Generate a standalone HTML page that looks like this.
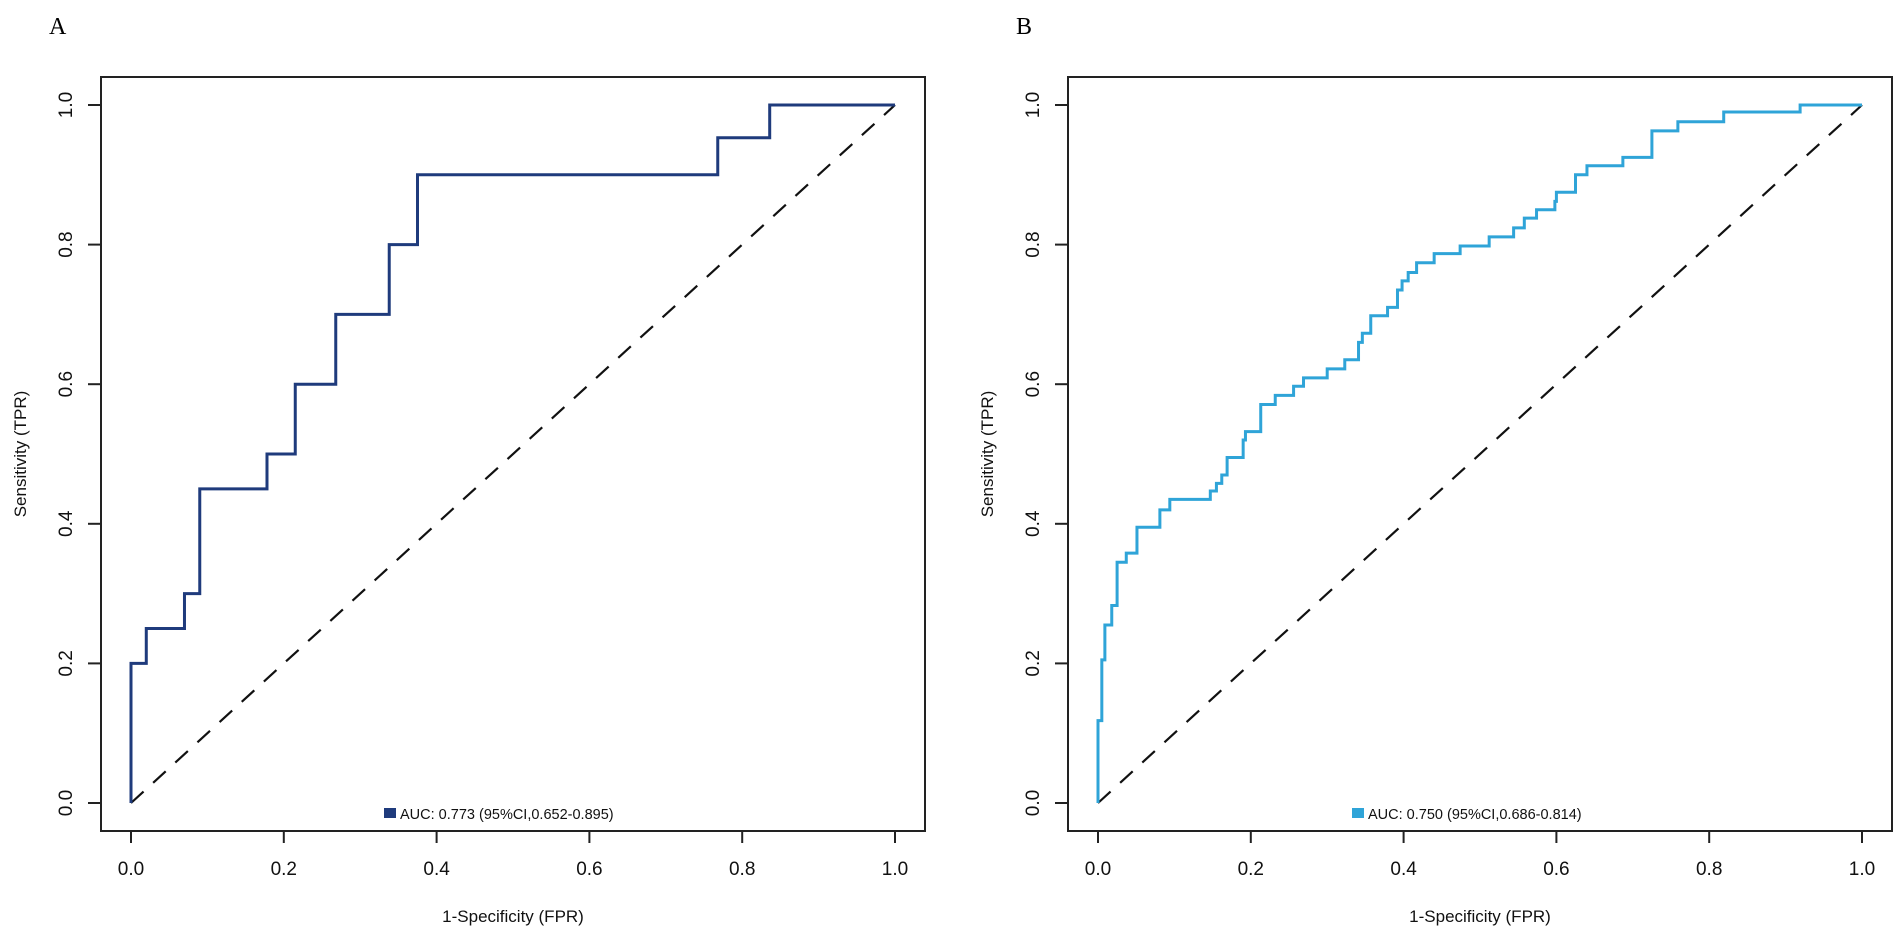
<!DOCTYPE html>
<html><head><meta charset="utf-8">
<style>
html,body{margin:0;padding:0;background:#fff;}
svg{display:block;font-family:"Liberation Sans",Arial,sans-serif;}
</style></head>
<body>
<svg id="chart" width="1902" height="935" viewBox="0 0 1902 935"></svg>
<script>
const ticks = [0, 0.2, 0.4, 0.6, 0.8, 1.0];
const tickLabels = ["0.0", "0.2", "0.4", "0.6", "0.8", "1.0"];
const fprA = [0, 0.02, 0.07, 0.09, 0.178, 0.215, 0.268, 0.338, 0.375, 0.768, 0.836];
const tprA = [0.2, 0.25, 0.3, 0.45, 0.5, 0.6, 0.7, 0.8, 0.9, 0.953, 1.0];
const fprB = [0,0.005,0.009,0.018,0.025,0.037,0.051,0.081,0.094,0.147,0.155,0.162,0.169,0.19,0.193,0.213,0.232,0.256,0.269,0.3,0.323,0.341,0.346,0.357,0.379,0.392,0.398,0.406,0.417,0.44,0.474,0.512,0.544,0.558,0.574,0.598,0.6,0.625,0.64,0.687,0.725,0.759,0.819,0.919];
const tprB = [0.118,0.205,0.255,0.283,0.345,0.358,0.395,0.42,0.435,0.447,0.458,0.47,0.495,0.52,0.532,0.571,0.584,0.597,0.609,0.622,0.635,0.66,0.673,0.698,0.71,0.735,0.748,0.76,0.774,0.787,0.798,0.811,0.824,0.838,0.85,0.862,0.875,0.9,0.913,0.925,0.963,0.976,0.99,1.0];
const legendA = "AUC: 0.773 (95%CI,0.652-0.895)";
const legendB = "AUC: 0.750 (95%CI,0.686-0.814)";

const NS = "http://www.w3.org/2000/svg";
const svg = document.getElementById("chart");
function mk(tag, attrs, parent){
  const e = document.createElementNS(NS, tag);
  for (const k in attrs) e.setAttribute(k, attrs[k]);
  (parent||svg).appendChild(e);
  return e;
}

function panel(cfg){
  const g = mk("g", {});
  
  
  const x0 = cfg.left + 30, x1 = x0 + 764;
  const y0 = 803, y1 = 105;
  const sx = v => x0 + v*(x1-x0);
  const sy = v => y0 - v*(y0-y1);

  const lbl = mk("text", {x: cfg.left - 52, y: 34, "font-family": "Liberation Serif,serif", "font-size": 24}, g);
  lbl.textContent = cfg.letter;
  
  

  const box = mk("rect", {x: cfg.left, y: 77, width: 824, height: 754, fill: "none", stroke: "#222", "stroke-width": 2}, g);
  
  

  ticks.forEach((t,i)=>{
    const tx = mk("line", {x1: sx(t), x2: sx(t), y1: 831, y2: 843, stroke: "#222", "stroke-width": 2}, g);
    
    
    const tl = mk("text", {x: sx(t), y: 875, "text-anchor": "middle", "font-size": 19, fill: "#111"}, g);
    tl.textContent = tickLabels[i];
    
    
    const ty = mk("line", {x1: cfg.left - 13, x2: cfg.left, y1: sy(t), y2: sy(t), stroke: "#222", "stroke-width": 2}, g);
    
    
    const yl = mk("text", {x: 0, y: 0, "text-anchor": "middle", "font-size": 19, fill: "#111",
      transform: `translate(${cfg.left - 29},${sy(t)}) rotate(-90)`}, g);
    yl.textContent = tickLabels[i];
    
    
  });

  const xt = mk("text", {x: (x0+x1)/2, y: 922, "text-anchor": "middle", "font-size": 17, fill: "#111"}, g);
  xt.textContent = "1-Specificity (FPR)";
  
  
  const yt = mk("text", {x: 0, y: 0, "text-anchor": "middle", "font-size": 17, fill: "#111",
    transform: `translate(${cfg.left - 75},${(y0+y1)/2}) rotate(-90)`}, g);
  yt.textContent = "Sensitivity (TPR)";
  
  

  const diag = mk("line", {x1: sx(0), y1: sy(0), x2: sx(1), y2: sy(1), stroke: "#111", "stroke-width": 2.2, "stroke-dasharray": "17 13"}, g);
  
  

  let d = `M${sx(0)},${sy(0)}`;
  for (let i=0;i<cfg.fpr.length;i++){
    d += ` H${sx(cfg.fpr[i])} V${sy(cfg.tpr[i])}`;
  }
  d += ` H${sx(1)}`;
  const curve = mk("path", {d: d, fill: "none", stroke: cfg.color, "stroke-width": 3, "stroke-linejoin": "miter"}, g);
  
  

  const lg = mk("g", {}, g);
  
  
  const sw = mk("rect", {x: cfg.legX, y: 808, width: 12, height: 10, fill: cfg.color}, lg);
  
  
  const lt = mk("text", {x: cfg.legX + 16, y: 819, "font-size": 14.5, fill: "#111"}, lg);
  lt.textContent = cfg.legend;
  
  
}

panel({name: "panel-a", letter: "A", left: 101, fpr: fprA, tpr: tprA, color: "#1f3b7c", legend: legendA, legX: 384});
panel({name: "panel-b", letter: "B", left: 1068, fpr: fprB, tpr: tprB, color: "#2fa4d8", legend: legendB, legX: 1352});
</script>
</body></html>
